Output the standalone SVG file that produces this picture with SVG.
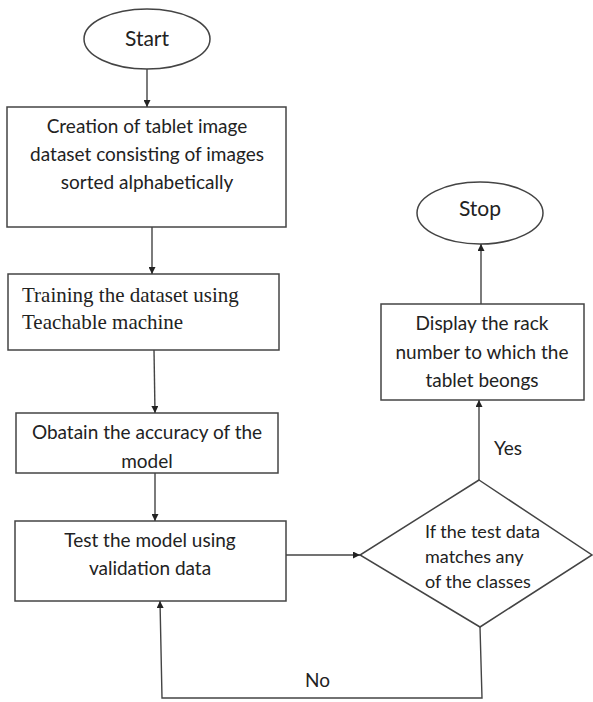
<svg xmlns="http://www.w3.org/2000/svg" width="593" height="702" viewBox="0 0 593 702">
<style>
.shape{fill:#fff;stroke:#444;stroke-width:1.5}
.t{font-family:Lato,"Liberation Sans",sans-serif;font-size:19px;fill:#222;text-anchor:middle}
.big{font-size:21px}
.sm{font-size:18px;text-anchor:start}
.ts{font-family:"Liberation Serif",serif;font-size:21px;fill:#222}
.c{fill:none;stroke:#444;stroke-width:1.4}
</style>
<defs>
<marker id="ah" viewBox="0 0 10 10" refX="10" refY="5" markerWidth="7" markerHeight="7" markerUnits="userSpaceOnUse" orient="auto">
<path d="M0,0 L10,5 L0,10 z" fill="#222"/>
</marker>
</defs>
<rect width="593" height="702" fill="#fff"/>
<g id="start">
<ellipse class="shape" cx="147" cy="39" rx="63" ry="30"/>
<text class="t big" x="147" y="46">Start</text>
</g>
<g id="create">
<rect class="shape" x="7" y="107" width="279" height="120"/>
<text class="t" x="147" y="133">Creation of tablet image</text>
<text class="t" x="147" y="161">dataset consisting of images</text>
<text class="t" x="147" y="189">sorted alphabetically</text>
</g>
<g id="train">
<rect class="shape" x="8" y="274" width="271" height="76"/>
<text class="ts" x="22" y="302">Training the dataset using</text>
<text class="ts" x="22" y="329">Teachable machine</text>
</g>
<g id="accuracy">
<rect class="shape" x="16" y="413" width="262" height="60"/>
<text class="t" x="147" y="439">Obatain the accuracy of the</text>
<text class="t" x="147" y="468">model</text>
</g>
<g id="test">
<rect class="shape" x="15" y="521" width="271" height="80"/>
<text class="t" x="150" y="547">Test the model using</text>
<text class="t" x="150" y="575">validation data</text>
</g>
<g id="decision">
<polygon class="shape" points="479,480 592,555 480,627 360,555"/>
<text class="t sm" x="425" y="538">If the test data</text>
<text class="t sm" x="425" y="563">matches any</text>
<text class="t sm" x="425" y="588">of the classes</text>
</g>
<g id="display">
<rect class="shape" x="381" y="304" width="203" height="96"/>
<text class="t" x="482" y="330">Display the rack</text>
<text class="t" x="482" y="359">number to which the</text>
<text class="t" x="482" y="387">tablet beongs</text>
</g>
<g id="stop">
<ellipse class="shape" cx="480" cy="213" rx="63" ry="31"/>
<text class="t big" x="480" y="216">Stop</text>
</g>
<g id="connectors">
<line class="c" x1="147" y1="69" x2="147" y2="107" marker-end="url(#ah)"/>
<line class="c" x1="152" y1="227" x2="152" y2="274" marker-end="url(#ah)"/>
<line class="c" x1="154" y1="350" x2="155" y2="413" marker-end="url(#ah)"/>
<line class="c" x1="155" y1="473" x2="155" y2="521" marker-end="url(#ah)"/>
<line class="c" x1="286" y1="555" x2="360" y2="555" marker-end="url(#ah)"/>
<line class="c" x1="479" y1="480" x2="479" y2="400" marker-end="url(#ah)"/>
<line class="c" x1="481" y1="304" x2="481" y2="244" marker-end="url(#ah)"/>
<polyline class="c" points="480,627 482,698 162,698 160,601" marker-end="url(#ah)"/>
<text class="t" x="494" y="455" style="text-anchor:start">Yes</text>
<text class="t" x="305" y="687" style="text-anchor:start">No</text>
</g>
</svg>
